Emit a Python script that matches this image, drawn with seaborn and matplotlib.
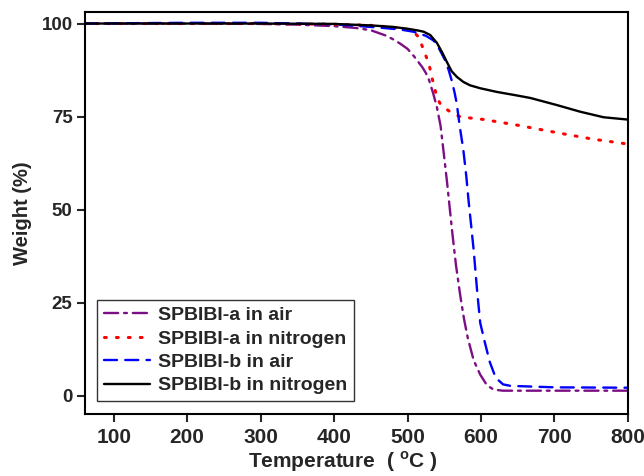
import numpy as np
import pandas as pd
import matplotlib
matplotlib.use("Agg")
import matplotlib.pyplot as plt
import seaborn as sns

# ---- data ----
T_a_air = [60, 200, 300, 350, 400, 430, 450, 470, 480, 490, 500, 508, 515, 520, 525, 529, 535, 540, 545, 550, 554, 561, 566, 572, 577, 582, 590, 599, 608, 617, 630, 700, 800]
W_a_air = [100, 100, 99.9, 99.7, 99.3, 98.8, 98.2, 96.8, 95.8, 94.6, 93.2, 91.4, 89.6, 88.3, 86.7, 85.0, 81.2, 77.5, 72.5, 64.0, 57.0, 43.7, 35.0, 26.6, 20.5, 15.5, 9.5, 5.6, 2.8, 1.6, 1.3, 1.3, 1.3]

T_a_n2 = [60, 300, 400, 450, 480, 500, 505, 510, 515, 518, 522, 529, 533, 537, 540, 544, 549, 555, 560, 572, 604, 649, 708, 753, 800]
W_a_n2 = [100, 100, 99.8, 99.5, 99.0, 98.4, 98.0, 97.4, 96.4, 95.0, 92.8, 89.3, 85.7, 82.5, 80.3, 78.6, 77.6, 76.7, 76.0, 74.9, 74.2, 72.7, 70.5, 68.9, 67.6]

T_b_air = [60, 200, 300, 400, 462, 490, 508, 525, 535, 540, 545, 551, 556, 560, 564, 567, 571, 576, 580, 583, 587, 590, 595, 599, 605, 612, 620, 630, 640, 700, 800]
W_b_air = [100, 100.2, 100.2, 99.8, 98.9, 98.4, 97.8, 96.7, 95.5, 94.3, 92.5, 90.2, 87.5, 84.8, 81.5, 78.5, 72.5, 66.0, 59.0, 52.6, 45.0, 39.2, 27.6, 19.5, 14.5, 9.0, 4.8, 3.0, 2.6, 2.2, 2.1]

T_b_n2 = [60, 300, 400, 450, 480, 500, 515, 522, 531, 540, 547, 554, 560, 567, 576, 585, 599, 622, 645, 667, 703, 735, 767, 799]
W_b_n2 = [100, 100, 99.9, 99.5, 99.1, 98.6, 98.1, 97.8, 96.9, 94.8, 92.3, 89.5, 87.2, 85.7, 84.3, 83.4, 82.6, 81.6, 80.8, 80.0, 78.1, 76.3, 74.8, 74.2]

labels = ["SPBIBI-a in air", "SPBIBI-a in nitrogen", "SPBIBI-b in air", "SPBIBI-b in nitrogen"]
x_ticks = [100, 200, 300, 400, 500, 600, 700, 800]
y_ticks = [0, 25, 50, 75, 100]

sns.set_style("ticks")
plt.rcParams["font.family"] = ["Liberation Sans", "DejaVu Sans"]
plt.rcParams["font.weight"] = "bold"
plt.rcParams["mathtext.fontset"] = "custom"
plt.rcParams["mathtext.rm"] = "Liberation Sans:bold"
plt.rcParams["mathtext.bf"] = "Liberation Sans:bold"

fig = plt.figure(figsize=(6.44, 4.76), dpi=100)
ax = fig.add_axes([0.132, 0.130, 0.843, 0.844])

series = [
    (T_a_air, W_a_air, "#7d0f85", (6, 2.5, 1.2, 2.5), 1.7),
    (T_a_n2, W_a_n2, "#ff0000", (0.6, 3.3), 2.2),
    (T_b_air, W_b_air, "#0000ff", (5.5, 3.5), 1.7),
    (T_b_n2, W_b_n2, "#000000", None, 1.7),
]
for (t, w, c, d, lw), lab in zip(series, labels):
    df = pd.DataFrame({"T": t, "W": w})
    sns.lineplot(data=df, x="T", y="W", ax=ax, color=c, linewidth=lw, label=lab)
    line = ax.lines[-1]
    if d is not None:
        line.set_dashes(d)
        line.set_dash_capstyle("round")
    else:
        line.set_linestyle("-")

ax.set_xlim(61, 800)
ax.set_ylim(-5, 103)
ax.set_xticks(x_ticks)
ax.set_yticks(y_ticks)
ax.tick_params(axis="x", labelsize=15, length=6, width=1.5, direction="out", pad=4)
ax.tick_params(axis="y", labelsize=13.5, length=6, width=1.5, direction="out", pad=3)
for lab in ax.get_xticklabels() + ax.get_yticklabels():
    lab.set_fontweight("bold")
for s in ax.spines.values():
    s.set_linewidth(1.5)
    s.set_color("black")
    s.set_visible(True)

ax.set_xlabel(r"Temperature  ( $^{\mathbf{o}}$C )", fontsize=15, fontweight="bold")
ax.xaxis.set_label_coords(0.474, -0.088)
ax.set_ylabel("Weight (%)", fontsize=14.5, fontweight="bold", labelpad=7)

leg = ax.legend(loc="lower left", bbox_to_anchor=(0.022, 0.032), borderaxespad=0,
                frameon=True, fancybox=False, framealpha=1, edgecolor="#333333",
                prop={"size": 14, "weight": "bold"}, handlelength=2.4,
                handletextpad=0.4, labelspacing=0.3, borderpad=0.35)
leg.get_frame().set_linewidth(1.0)

fig.savefig("out.png", dpi=100)
